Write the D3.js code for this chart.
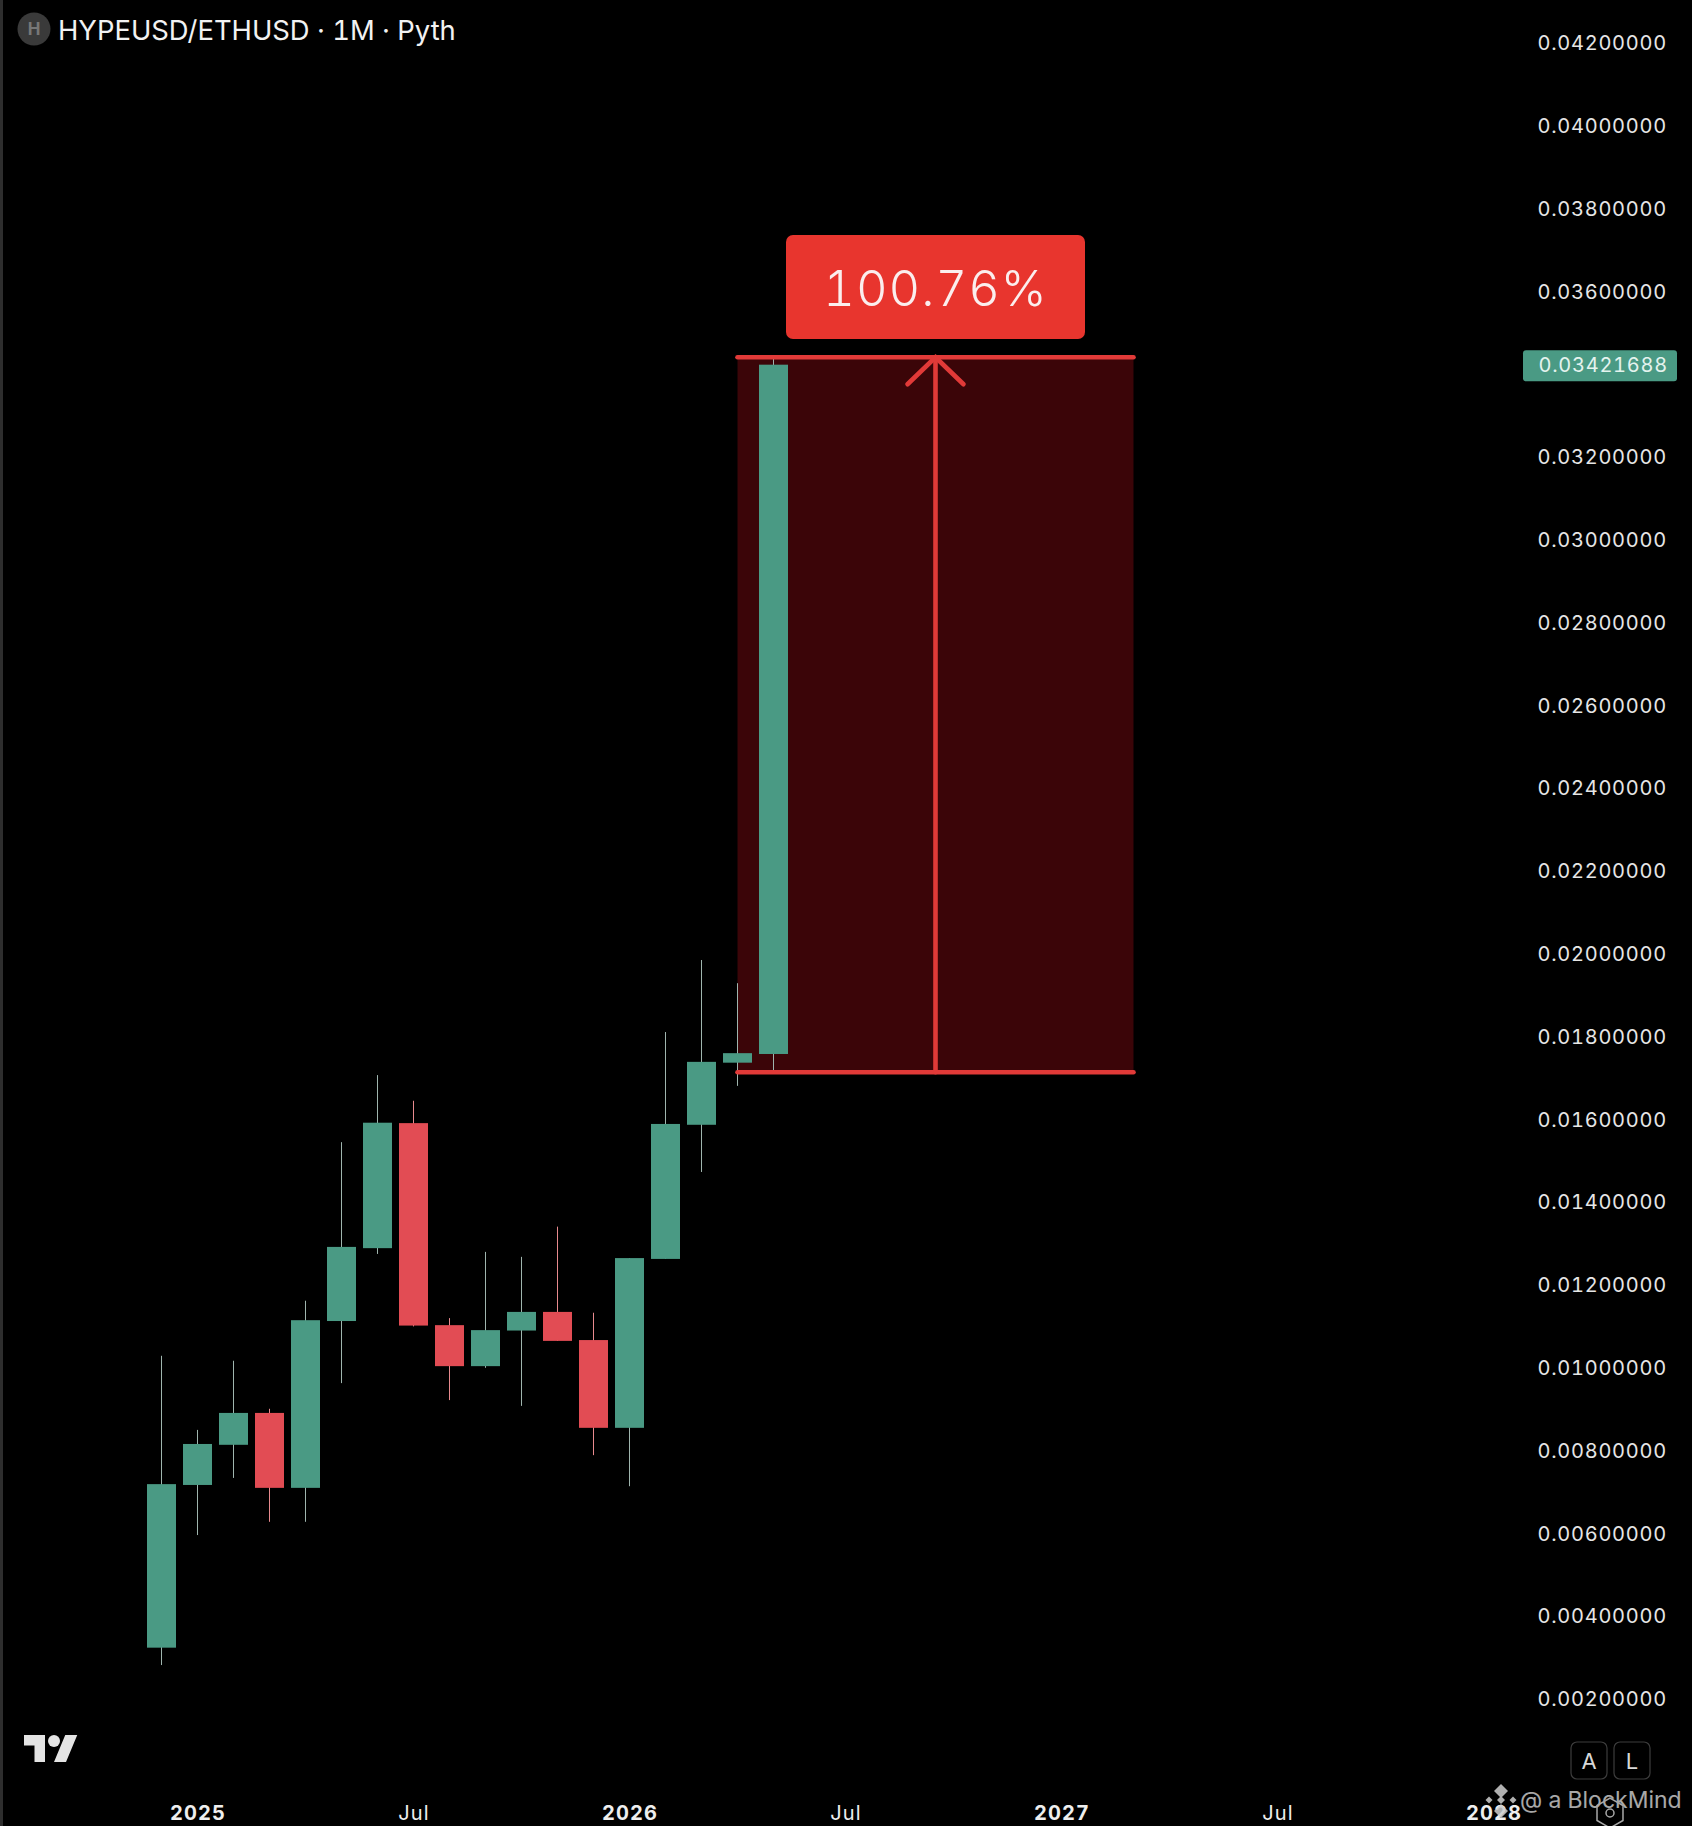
<!DOCTYPE html>
<html>
<head>
<meta charset="utf-8">
<script src="https://cdn.jsdelivr.net/npm/d3@7"></script>
<style>
  html, body { margin: 0; padding: 0; background: #000; overflow: hidden; }
  svg { display: block; font-family: Inter, "Noto Sans", sans-serif; font-variant-numeric: tabular-nums; }
  .axis path, .axis line { display: none; }
</style>
</head>
<body>
<svg id="chart" width="1692" height="1826"></svg>
<script>
// monthly candles, Dec 2024 to May 2026
var months = ["2024-12","2025-01","2025-02","2025-03","2025-04","2025-05","2025-06","2025-07","2025-08",
              "2025-09","2025-10","2025-11","2025-12","2026-01","2026-02","2026-03","2026-04","2026-05"];
var opens  = [0.00324,0.00717,0.00814,0.00891,0.00710,0.01113,0.01289,0.01591,0.01103,0.01004,0.01090,0.01135,0.01067,0.00855,0.01263,0.01587,0.01737,0.01758];
var closes = [0.00719,0.00816,0.00891,0.00710,0.01115,0.01292,0.01592,0.01102,0.01004,0.01091,0.01135,0.01065,0.00855,0.01265,0.01589,0.01739,0.01760,0.03423];
var highs  = [0.01029,0.00850,0.01017,0.00901,0.01162,0.01545,0.01707,0.01645,0.01120,0.01280,0.01268,0.01341,0.01133,0.01265,0.01811,0.01985,0.01929,0.03444];
var lows   = [0.00282,0.00596,0.00734,0.00628,0.00628,0.00963,0.01275,0.01100,0.00922,0.01000,0.00908,0.01065,0.00789,0.00714,0.01263,0.01473,0.01681,0.01717];

var priceTicks = [0.042,0.040,0.038,0.036,0.034,0.032,0.030,0.028,0.026,0.024,0.022,0.020,0.018,0.016,0.014,0.012,0.010,0.008,0.006,0.004,0.002];
var timeTicks = [1,7,13,19,25,31,37];
var timeLabels = ["2025","Jul","2026","Jul","2027","Jul","2028"];

var lastPrice = 0.03421688;
var measureLow = 0.01714, measureHigh = 0.03441;
var measureFrom = 16, measureTo = 27;
var measureText = "100.76%";

var green = "#4a9a84", red = "#e24c54", lineRed = "#e13a38";

var svg = d3.select("#chart");

var x = d3.scaleLinear().domain([0, 1]).range([161.5, 197.5]);
var y = d3.scaleLinear().domain([0.002, 0.042]).range([1699, 43]);

svg.append("rect").attr("width", 1692).attr("height", 1826).attr("fill", "#000");
svg.append("rect").attr("width", 3).attr("height", 1826).attr("fill", "#2e2e2e");

// measure box
svg.append("rect")
    .attr("x", x(measureFrom))
    .attr("y", y(measureHigh))
    .attr("width", x(measureTo) - x(measureFrom))
    .attr("height", y(measureLow) - y(measureHigh))
    .attr("fill", "#3b0508");

// candles
var candles = svg.append("g").selectAll("g")
    .data(months)
    .enter().append("g");

candles.append("line")
    .attr("x1", function(d, i) { return x(i); })
    .attr("x2", function(d, i) { return x(i); })
    .attr("y1", function(d, i) { return y(highs[i]); })
    .attr("y2", function(d, i) { return y(lows[i]); })
    .attr("stroke", function(d, i) { return closes[i] >= opens[i] ? "#9fb5ae" : "#e88a8e"; })
    .attr("stroke-width", 1);

candles.append("rect")
    .attr("x", function(d, i) { return x(i) - 14.5; })
    .attr("width", 29)
    .attr("y", function(d, i) { return y(Math.max(opens[i], closes[i])); })
    .attr("height", function(d, i) { return Math.abs(y(opens[i]) - y(closes[i])); })
    .attr("fill", function(d, i) { return closes[i] >= opens[i] ? green : red; });

// measure lines and arrow
var measure = svg.append("g")
    .attr("stroke", lineRed)
    .attr("stroke-width", 4.6)
    .attr("stroke-linecap", "round")
    .attr("fill", "none");

[measureHigh, measureLow].forEach(function(v) {
  measure.append("line")
      .attr("x1", x(measureFrom)).attr("x2", x(measureTo))
      .attr("y1", y(v)).attr("y2", y(v));
});

var midX = x((measureFrom + measureTo) / 2);
measure.append("line")
    .attr("x1", midX).attr("x2", midX)
    .attr("y1", y(measureHigh)).attr("y2", y(measureLow));
measure.append("path")
    .attr("d", d3.line()([[midX - 28, y(measureHigh) + 27], [midX, y(measureHigh)], [midX + 28, y(measureHigh) + 27]]));

svg.append("rect")
    .attr("x", midX - 149.5).attr("y", 235)
    .attr("width", 299).attr("height", 104)
    .attr("rx", 7)
    .attr("fill", "#e8352e");
svg.append("text")
    .attr("x", midX).attr("y", 306)
    .attr("text-anchor", "middle")
    .attr("font-size", 49)
    .attr("font-weight", 300)
    .attr("letter-spacing", 1)
    .attr("fill", "#fbeeee")
    .text(measureText);

// price axis
var yAxis = d3.axisRight(y)
    .tickValues(priceTicks)
    .tickSize(0)
    .tickPadding(0)
    .tickFormat(d3.format(".8f"));

svg.append("g")
    .attr("class", "axis")
    .attr("transform", "translate(1667,0.2)")
    .call(yAxis)
  .selectAll("text")
    .attr("text-anchor", "end")
    .attr("font-family", "Inter, sans-serif")
    .attr("font-size", 20)
    .attr("letter-spacing", 0.75)
    .attr("fill", "#e6e6e6");

// last price label
svg.append("rect")
    .attr("x", 1523).attr("y", y(lastPrice) - 15)
    .attr("width", 154).attr("height", 31)
    .attr("rx", 3)
    .attr("fill", green);
svg.append("text")
    .attr("x", 1668).attr("y", y(lastPrice))
    .attr("dy", "0.35em")
    .attr("text-anchor", "end")
    .attr("font-size", 20)
    .attr("letter-spacing", 0.75)
    .attr("fill", "#e4f3ee")
    .text(d3.format(".8f")(lastPrice));

// time axis
var xAxis = d3.axisBottom(x)
    .tickValues(timeTicks)
    .tickSize(0)
    .tickPadding(0)
    .tickFormat(function(d, i) { return timeLabels[i]; });

svg.append("g")
    .attr("class", "axis")
    .attr("transform", "translate(0,1806)")
    .call(xAxis)
  .selectAll("text")
    .attr("font-family", "Inter, sans-serif")
    .attr("font-size", 20)
    .attr("font-weight", function(d, i) { return timeLabels[i] === "Jul" ? 400 : 700; })
    .attr("letter-spacing", 1.1)
    .attr("fill", "#eeeeee");

// header
svg.append("circle").attr("cx", 34).attr("cy", 29).attr("r", 16.5).attr("fill", "#3a3a3a");
svg.append("text")
    .attr("x", 34).attr("y", 29).attr("dy", "0.36em")
    .attr("text-anchor", "middle")
    .attr("font-size", 17).attr("font-weight", 700)
    .attr("fill", "#777")
    .text("H");
svg.append("text")
    .attr("x", 58).attr("y", 40)
    .attr("font-size", 27.4)
    .attr("fill", "#f2f2f2")
    .text("HYPEUSD/ETHUSD · 1M · Pyth");

// tradingview logo
var logo = svg.append("g")
    .attr("transform", "translate(24,1729) scale(1.5)")
    .attr("fill", "#e4e4e4");
logo.append("path").attr("d", "M14 22H7V11H0V4h14v18zM28 22h-8l7.5-18h8L28 22z");
logo.append("circle").attr("cx", 20).attr("cy", 8).attr("r", 4);

// A / L buttons
[["A", 1571], ["L", 1614]].forEach(function(b) {
  svg.append("rect")
      .attr("x", b[1]).attr("y", 1742)
      .attr("width", 36).attr("height", 37)
      .attr("rx", 6)
      .attr("fill", "none")
      .attr("stroke", "#3d3d3d")
      .attr("stroke-width", 1.2);
  svg.append("text")
      .attr("x", b[1] + 18).attr("y", 1761).attr("dy", "0.36em")
      .attr("text-anchor", "middle")
      .attr("font-size", 22)
      .attr("fill", "#d8d8d8")
      .text(b[0]);
});

// watermark
var mark = svg.append("g").attr("opacity", 0.75);
var diamond = svg.append("g").attr("fill", "#cfcfcf").attr("opacity", 0.85);
[[1501, 1791, 7], [1489, 1800, 3.5], [1513, 1800, 3.5], [1501, 1800, 4], [1501, 1811, 7]].forEach(function(p) {
  diamond.append("path")
      .attr("d", "M" + p[0] + " " + (p[1] - p[2]) + "L" + (p[0] + p[2]) + " " + p[1] + "L" + p[0] + " " + (p[1] + p[2]) + "L" + (p[0] - p[2]) + " " + p[1] + "Z");
});
mark.append("text")
    .attr("x", 1520).attr("y", 1808)
    .attr("font-size", 23)
    .attr("fill", "#e0e0e0")
    .text("@ a BlockMind");
var hex = d3.range(6).map(function(i) {
  var a = Math.PI / 3 * i + Math.PI / 6;
  return [1610 + 15 * Math.cos(a), 1813 + 15 * Math.sin(a)];
});
mark.append("path")
    .attr("d", d3.line()(hex) + "Z")
    .attr("fill", "none")
    .attr("stroke", "#e0e0e0")
    .attr("stroke-width", 1.5);
mark.append("circle")
    .attr("cx", 1610).attr("cy", 1813).attr("r", 4)
    .attr("fill", "none")
    .attr("stroke", "#e0e0e0")
    .attr("stroke-width", 1.5);
</script>
</body>
</html>
